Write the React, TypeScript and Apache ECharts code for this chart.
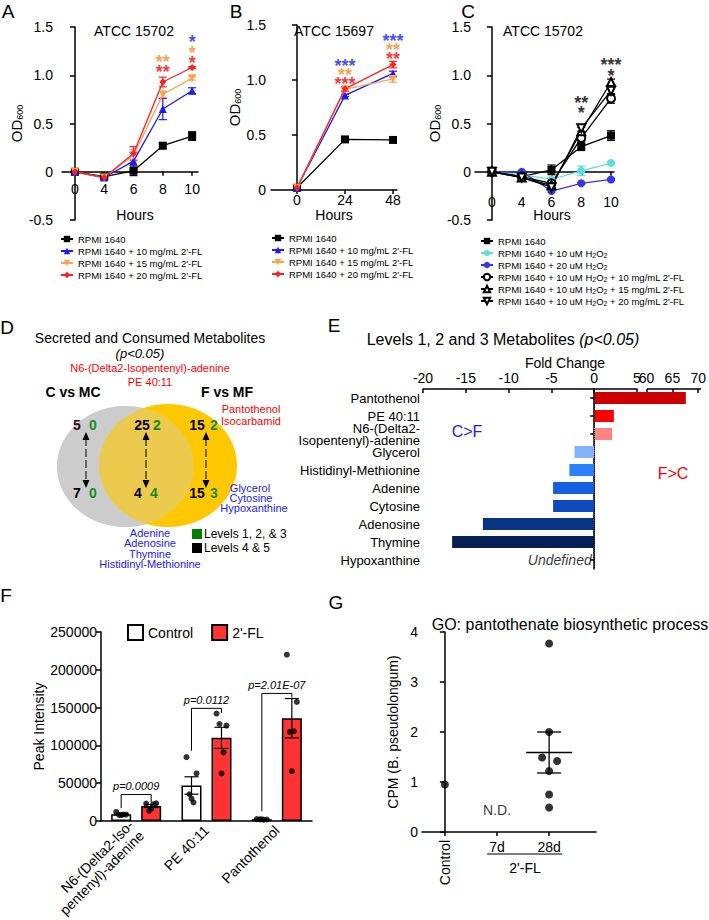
import React, { useEffect, useRef } from 'react';
import * as echarts from 'echarts';

const FONT = "'Liberation Sans', Arial, Helvetica, sans-serif";
const W = 709;
const H = 920;

// ---------- Panel A (ATCC 15702) ----------
const hoursAC = ['0', '4', '6', '8', '10'];
const aRpmi = [0, -0.05, 0.01, 0.27, 0.37];
const aRpmiErr = [0.01, 0.01, 0.05, 0.03, 0.045];
const aFl10 = [0, -0.06, 0.11, 0.65, 0.84];
const aFl10Err = [0.005, 0.01, 0.09, 0.11, 0.03];
const aFl15 = [0, -0.06, 0.17, 0.8, 0.97];
const aFl15Err = [0.005, 0.01, 0.06, 0.03, 0.02];
const aFl20 = [0, -0.06, 0.19, 0.93, 1.08];
const aFl20Err = [0.005, 0.01, 0.07, 0.05, 0.01];
// significance marks: [x, y, text, colour key]
const aStars = [[4, 1.38, '*', 'b'], [3, 1.18, '**', 'o'], [4, 1.27, '*', 'o'], [3, 1.07, '**', 'r'], [4, 1.17, '*', 'r']];

// ---------- Panel B (ATCC 15697) ----------
const hoursB = [0, 24, 48];
const bRpmi = [0.02, 0.46, 0.455];
const bRpmiErr = [0.01, 0.01, 0.01];
const bFl10 = [0.02, 0.86, 1.06];
const bFl10Err = [0.01, 0.01, 0.02];
const bFl15 = [0.02, 0.915, 1.01];
const bFl15Err = [0.01, 0.02, 0.03];
const bFl20 = [0.02, 0.92, 1.14];
const bFl20Err = [0.01, 0.02, 0.03];
const bStars = [
  [24, 1.16, '***', 'b'], [24, 1.08, '**', 'o'], [24, 1.0, '***', 'r'],
  [48, 1.39, '***', 'b'], [48, 1.31, '**', 'o'], [48, 1.23, '**', 'r'],
];

// ---------- Panel C (ATCC 15702 + H2O2) ----------
const cRpmi = [0.01, -0.05, 0.02, 0.26, 0.375];
const cRpmiErr = [0.02, 0.02, 0.05, 0.04, 0.05];
const cH10 = [0, -0.03, -0.08, 0.01, 0.09];
const cH10Err = [0.005, 0.01, 0.02, 0.05, 0.01];
const cH20 = [0, 0.0, -0.2, -0.12, -0.08];
const cH20Err = [0.005, 0.01, 0.01, 0.01, 0.01];
const cH10Fl10 = [0, -0.05, -0.12, 0.35, 0.76];
const cH10Fl10Err = [0.005, 0.01, 0.02, 0.03, 0.05];
const cH10Fl15 = [0, -0.06, -0.14, 0.42, 0.93];
const cH10Fl15Err = [0.005, 0.01, 0.02, 0.04, 0.03];
const cH10Fl20 = [0, -0.06, -0.16, 0.45, 0.84];
const cH10Fl20Err = [0.005, 0.01, 0.02, 0.03, 0.04];
const cStars = [[3, 0.75, '**', 'k'], [3, 0.65, '*', 'k'], [4, 1.15, '***', 'k'], [4, 1.03, '*', 'k']];

// ---------- Panel E (fold change) ----------
const eMetabolites = [
  'Pantothenol', 'PE 40:11', 'N6-(Delta2-\nIsopentenyl)-adenine', 'Glycerol',
  'Histidinyl-Methionine', 'Adenine', 'Cytosine', 'Adenosine', 'Thymine', 'Hypoxanthine',
];
const eFold = [67.6, 2.3, 2.1, -2.3, -2.9, -4.8, -4.8, -13.0, -16.6, null];
const eUndefinedIndex = 9;
const eColors = ['#cc0000', '#ff0000', '#ff8585', '#85b2ff', '#2a7fff', '#1660e0', '#0d4bbd', '#0a3585', '#061f55', '#000'];

// ---------- Panel F (peak intensity) ----------
const fCategories = ['N6-(Delta2-Iso-\npentenyl)-adenine', 'PE 40:11', 'Pantothenol'];
const fControlMean = [9000, 47000, 2200];
const fControlSem = [800, 11500, 150];
const fFlMean = [19800, 110000, 136000];
const fFlSem = [2000, 14000, 26000];
const fControlDots = [
  [12000, 8500, 8000, 8500, 8000],
  [84500, 62900, 35400, 24600, 29600],
  [2500, 2000, 2200, 1800, 2300],
];
const fFlDots = [
  [23000, 23500, 13500, 22000, 16000],
  [142100, 126200, 128300, 90800, 62900],
  [220000, 157500, 117900, 118750, 65900],
];
const fPValues = ['p=0.0009', 'p=0.0112', 'p=2.01E-07'];
const fBracketTop = [35000, 149000, 168750];
const fBracketLeft = [17000, 93000, 13000];
const fBracketRight = [25000, 143000, 163500];

// ---------- Panel G (CPM) ----------
const gGroups = ['Control', '7d', '28d'];
const gControl = [0.95];
const g28d = [3.77, 2.0, 1.49, 1.42, 1.22, 0.75, 0.49];
const g28dMean = 1.59;
const g28dSem = 0.41;

// ----- layout/style helpers (positions, not data) -----
const fJitter = [-5, 5, -2, 2, 0];
const gJitter = [0, 0, -7, 8, 0, 0, 0];

const N_RPMI = 'RPMI 1640';
const N_FL10 = "RPMI 1640 + 10 mg/mL 2'-FL";
const N_FL15 = "RPMI 1640 + 15 mg/mL 2'-FL";
const N_FL20 = "RPMI 1640 + 20 mg/mL 2'-FL";
const N_H10 = 'RPMI 1640 + 10 uM H2O2';
const N_H20 = 'RPMI 1640 + 20 uM H2O2';
const N_HF10 = "RPMI 1640 + 10 uM H2O2 + 10 mg/mL 2'-FL";
const N_HF15 = "RPMI 1640 + 10 uM H2O2 + 15 mg/mL 2'-FL";
const N_HF20 = "RPMI 1640 + 10 uM H2O2 + 20 mg/mL 2'-FL";

const BLACK = '#000000';
const BLUE = '#1a1aff';
const ORANGE = '#ffa24f';
const RED = '#ff2020';
const STAR_ORANGE = '#ff8a1f';
const CYAN = '#5fdede';
const CBLUE = '#3535ea';
const STAR_COLORS: any = { b: BLUE, o: STAR_ORANGE, r: '#ff0000', k: '#000' };

const axisLine = { show: true, onZero: true, lineStyle: { color: '#000', width: 1.5 } };
const lbl = (size: number, extra: any = {}) => ({ color: '#000', fontSize: size, fontFamily: FONT, ...extra });

function pairs(xs: number[], ys: number[]) {
  return xs.map((x, i) => [x, ys[i]]);
}
const idx5 = [0, 1, 2, 3, 4];

function lineSeries(name: string, gi: number, xs: number[], ys: number[], color: string, symbol: string, size: number, extra: any = {}) {
  return {
    type: 'line', name, xAxisIndex: gi, yAxisIndex: gi, data: pairs(xs, ys),
    symbol, symbolSize: size, lineStyle: { color, width: 1.3 }, itemStyle: { color }, z: 4, ...extra,
  };
}

function errorBars(gi: number, xs: number[], ys: number[], errs: number[], color: string, cap = 8) {
  return {
    type: 'custom', xAxisIndex: gi, yAxisIndex: gi, silent: true, z: 3,
    data: xs.map((x, i) => [x, ys[i] - errs[i], ys[i] + errs[i]]),
    encode: { x: 0, y: [1, 2] },
    renderItem: (params: any, api: any) => {
      const lo = api.coord([api.value(0), api.value(1)]);
      const hi = api.coord([api.value(0), api.value(2)]);
      const h = cap / 2;
      const st = { stroke: color, lineWidth: 1.2 };
      return {
        type: 'group', children: [
          { type: 'line', shape: { x1: lo[0], y1: lo[1], x2: hi[0], y2: hi[1] }, style: st },
          { type: 'line', shape: { x1: lo[0] - h, y1: lo[1], x2: lo[0] + h, y2: lo[1] }, style: st },
          { type: 'line', shape: { x1: hi[0] - h, y1: hi[1], x2: hi[0] + h, y2: hi[1] }, style: st },
        ],
      };
    },
  };
}

// Group the significance marks of one x position into one stacked label.
function starStacks(gi: number, pts: any[], lineHeight: number) {
  const groups: any = {};
  pts.forEach((p) => {
    (groups[p[0]] = groups[p[0]] || []).push(p);
  });
  const data = Object.keys(groups).map((k) => {
    const rows = groups[k].slice().sort((a: any, b: any) => b[1] - a[1]);
    const yMid = rows.reduce((s: number, r: any) => s + r[1], 0) / rows.length;
    const text = rows.map((r: any) => `{${r[3]}|${r[2]}}`).join('\n');
    return [Number(k), yMid, text];
  });
  const rich: any = {};
  Object.keys(STAR_COLORS).forEach((c) => {
    rich[c] = { color: STAR_COLORS[c], fontSize: 18, fontWeight: 'bold', fontFamily: FONT, lineHeight, align: 'center' };
  });
  return {
    type: 'scatter', xAxisIndex: gi, yAxisIndex: gi, silent: true, z: 6,
    data, symbolSize: 1, itemStyle: { color: 'transparent' },
    label: {
      show: true, position: 'inside', formatter: (p: any) => p.value[2], offset: [0, 4],
      fontSize: 18, lineHeight, align: 'center', rich,
    },
  };
}

function odAxis(gi: number, min: number, labelMargin: number, nameGap: number, size: number) {
  return {
    gridIndex: gi, type: 'value', min, max: 1.5, interval: 0.5,
    axisLine, axisTick: { show: true, length: 5, lineStyle: { color: '#000', width: 1.5 } },
    axisLabel: lbl(size, { margin: labelMargin, formatter: (v: number) => (v === 0 ? '0' : v.toFixed(1)) }),
    splitLine: { show: false },
    name: 'OD{s|600}', nameLocation: 'middle', nameGap,
    nameTextStyle: {
      color: '#000', fontSize: 15, fontFamily: FONT, lineHeight: 16,
      rich: { s: { fontSize: 9, fontFamily: FONT, lineHeight: 6, verticalAlign: 'bottom' } },
    },
  };
}

function buildOption() {
  const venn: any[] = [];
  const T = (x: number, y: number, text: string, o: any = {}) => ({
    type: 'text', x, y, silent: true,
    style: { text, fontFamily: FONT, fontSize: 14, fill: '#000', align: 'center', verticalAlign: 'middle', ...o },
  });
  // Venn diagram (panel D)
  venn.push({ type: 'ellipse', shape: { cx: 125.5, cy: 466.5, rx: 68.5, ry: 60.5 }, style: { fill: '#cccccc' }, silent: true });
  venn.push({ type: 'ellipse', shape: { cx: 168, cy: 465.5, rx: 69, ry: 61.5 }, style: { fill: '#ffc800' }, silent: true });
  venn.push({ type: 'ellipse', shape: { cx: 125.5, cy: 466.5, rx: 68.5, ry: 60.5 }, style: { fill: '#cccccc', opacity: 0.38 }, silent: true });
  const arrow = (x: number, y0: number, y1: number) => [
    { type: 'line', shape: { x1: x, y1: y0 + 6, x2: x, y2: y1 - 6 }, style: { stroke: '#000', lineWidth: 1, lineDash: [8, 3] }, silent: true },
    { type: 'polygon', shape: { points: [[x - 3.5, y0 + 8], [x, y0], [x + 3.5, y0 + 8]] }, style: { fill: '#000' }, silent: true },
    { type: 'polygon', shape: { points: [[x - 3.5, y1 - 8], [x, y1], [x + 3.5, y1 - 8]] }, style: { fill: '#000' }, silent: true },
  ];
  venn.push(...arrow(86, 432, 488), ...arrow(146, 432, 488), ...arrow(206, 432, 488));
  const GREEN = '#1a8c1a';
  const num = (x: number, y: number, t: string, c = '#000') => T(x, y, t, { fontWeight: 'bold', fontSize: 14, fill: c });
  venn.push(num(77, 425, '5', '#2a1010'), num(93, 425, '0', GREEN), num(142, 425, '25'), num(157, 425, '2', GREEN),
    num(197, 425, '15'), num(214, 425, '2', GREEN));
  venn.push(num(77, 493, '7'), num(93, 493, '0', GREEN), num(138, 493, '4'), num(154, 493, '4', GREEN),
    num(197, 493, '15'), num(214, 493, '3', GREEN));

  const graphics: any[] = [
    // panel letters
    T(8, 11, 'A', { fontSize: 19 }), T(236, 11, 'B', { fontSize: 19 }), T(468, 11, 'C', { fontSize: 19 }),
    T(7, 327, 'D', { fontSize: 19 }), T(334, 325, 'E', { fontSize: 19 }), T(6, 595, 'F', { fontSize: 19 }),
    T(336, 602, 'G', { fontSize: 19 }),
    // panel titles
    T(134, 31, 'ATCC 15702'), T(334, 31, 'ATCC 15697'), T(543, 31, 'ATCC 15702'),
    // axis titles for A and C (axis sits on zero, title under grid)
    T(135, 215, 'Hours'), T(552, 215, 'Hours'),
    // D texts
    T(150, 338, 'Secreted and Consumed Metabolites', { fontSize: 14 }),
    T(140, 353, '(p<0.05)', { fontSize: 13, fontStyle: 'italic' }),
    T(150, 368, 'N6-(Delta2-Isopentenyl)-adenine', { fontSize: 11, fill: '#ff0000' }),
    T(150, 382, 'PE 40:11', { fontSize: 11, fill: '#ff0000' }),
    T(73, 392, 'C vs MC', { fontSize: 14, fontWeight: 'bold' }),
    T(227, 392, 'F vs MF', { fontSize: 14, fontWeight: 'bold' }),
    T(251, 409, 'Pantothenol', { fontSize: 11, fill: '#ff0000' }),
    T(251, 421, 'Isocarbamid', { fontSize: 11, fill: '#ff0000' }),
    ...venn,
    T(250, 488, 'Glycerol', { fontSize: 11, fill: '#1a1aff' }),
    T(251, 498, 'Cytosine', { fontSize: 11, fill: '#1a1aff' }),
    T(254, 508, 'Hypoxanthine', { fontSize: 11, fill: '#1a1aff' }),
    T(150, 533, 'Adenine', { fontSize: 11, fill: '#1a1aff' }),
    T(150, 543, 'Adenosine', { fontSize: 11, fill: '#1a1aff' }),
    T(150, 554, 'Thymine', { fontSize: 11, fill: '#1a1aff' }),
    T(150, 564, 'Histidinyl-Methionine', { fontSize: 11, fill: '#1a1aff' }),
    { type: 'rect', shape: { x: 192, y: 529, width: 10, height: 10 }, style: { fill: '#008000' }, silent: true },
    { type: 'rect', shape: { x: 192, y: 543, width: 10, height: 10 }, style: { fill: '#000' }, silent: true },
    T(204, 534, 'Levels 1, 2, & 3', { fontSize: 12, align: 'left' }),
    T(204, 548, 'Levels 4 & 5', { fontSize: 12, align: 'left' }),
    // E texts
    {
      type: 'text', x: 503, y: 339, silent: true,
      style: {
        text: 'Levels 1, 2 and 3 Metabolites {i|(p<0.05)}', fontFamily: FONT, fontSize: 16, fill: '#000',
        align: 'center', verticalAlign: 'middle',
        rich: { i: { fontStyle: 'italic', fontSize: 16, fontFamily: FONT, fill: '#000' } },
      },
    },
    T(565, 363, 'Fold Change', { fontSize: 14 }),
    { type: 'line', shape: { x1: 647, y1: 389, x2: 701, y2: 389 }, style: { stroke: '#000', lineWidth: 1.5 }, silent: true },
    T(467, 431, 'C>F', { fontSize: 16, fill: '#1a1aff' }),
    T(673, 473, 'F>C', { fontSize: 16, fill: '#ff0000' }),
    // G texts
    T(570, 624, 'GO: pantothenate biosynthetic process', { fontSize: 16 }),
    { type: 'line', shape: { x1: 487, y1: 854, x2: 562, y2: 854 }, style: { stroke: '#000', lineWidth: 1.2 }, silent: true },
    T(525, 868, "2'-FL", { fontSize: 14 }),
  ];

  const legendBase = {
    orient: 'vertical', itemWidth: 12, itemHeight: 8, itemGap: 0, padding: 0, selectedMode: false,
    textStyle: { fontSize: 9.5, color: '#000', fontFamily: FONT, lineHeight: 12 },
  };

  const series: any[] = [
    // ---- A ----
    errorBars(0, idx5, aRpmi, aRpmiErr, BLACK),
    errorBars(0, idx5, aFl10, aFl10Err, BLUE),
    errorBars(0, idx5, aFl15, aFl15Err, ORANGE),
    errorBars(0, idx5, aFl20, aFl20Err, RED),
    lineSeries(N_RPMI, 0, idx5, aRpmi, BLACK, 'rect', 8),
    lineSeries(N_FL10, 0, idx5, aFl10, BLUE, 'triangle', 8),
    lineSeries(N_FL15, 0, idx5, aFl15, ORANGE, 'triangle', 8, { symbolRotate: 180 }),
    lineSeries(N_FL20, 0, idx5, aFl20, RED, 'diamond', 7),
    starStacks(0, aStars, 10.5),
    // ---- B ----
    errorBars(1, hoursB, bRpmi, bRpmiErr, BLACK),
    errorBars(1, hoursB, bFl10, bFl10Err, BLUE),
    errorBars(1, hoursB, bFl15, bFl15Err, ORANGE),
    errorBars(1, hoursB, bFl20, bFl20Err, RED),
    lineSeries(N_RPMI, 1, hoursB, bRpmi, BLACK, 'rect', 8),
    lineSeries(N_FL10, 1, hoursB, bFl10, BLUE, 'triangle', 8),
    lineSeries(N_FL15, 1, hoursB, bFl15, ORANGE, 'triangle', 8, { symbolRotate: 180 }),
    lineSeries(N_FL20, 1, hoursB, bFl20, RED, 'diamond', 7),
    starStacks(1, bStars, 8.8),
    // ---- C ----
    errorBars(2, idx5, cRpmi, cRpmiErr, BLACK),
    errorBars(2, idx5, cH10, cH10Err, CYAN),
    errorBars(2, idx5, cH20, cH20Err, CBLUE),
    errorBars(2, idx5, cH10Fl10, cH10Fl10Err, BLACK),
    errorBars(2, idx5, cH10Fl15, cH10Fl15Err, BLACK),
    errorBars(2, idx5, cH10Fl20, cH10Fl20Err, BLACK),
    lineSeries(N_RPMI, 2, idx5, cRpmi, BLACK, 'rect', 8),
    lineSeries(N_H10, 2, idx5, cH10, CYAN, 'circle', 8),
    lineSeries(N_H20, 2, idx5, cH20, CBLUE, 'circle', 8),
    lineSeries(N_HF10, 2, idx5, cH10Fl10, BLACK, 'emptyCircle', 8),
    lineSeries(N_HF15, 2, idx5, cH10Fl15, BLACK, 'emptyTriangle', 8),
    lineSeries(N_HF20, 2, idx5, cH10Fl20, BLACK, 'emptyTriangle', 8, { symbolRotate: 180 }),
    starStacks(2, cStars, 10.5),
    // ---- E ----
    {
      type: 'bar', xAxisIndex: 3, yAxisIndex: 3, barWidth: 12, silent: true,
      data: eFold.map((v, i) => (v == null ? '-' : { value: v, itemStyle: { color: eColors[i] } })),
      markLine: {
        silent: true, symbol: ['none', 'none'], label: { show: false },
        lineStyle: { type: 'dotted', color: '#000', width: 1 }, data: [{ xAxis: 0 }],
      },
    },
    {
      type: 'bar', xAxisIndex: 4, yAxisIndex: 4, barWidth: 12, silent: true,
      data: eFold.map((v, i) => (v != null && v > 5 ? { value: v, itemStyle: { color: eColors[i] } } : '-')),
    },
    {
      type: 'scatter', xAxisIndex: 3, yAxisIndex: 3, silent: true, symbolSize: 1,
      itemStyle: { color: 'transparent' }, data: [[0, eUndefinedIndex]],
      label: { show: true, position: 'left', distance: 2, formatter: 'Undefined', color: '#000', fontSize: 14, fontStyle: 'italic', fontFamily: FONT },
    },
    // ---- F ----
    {
      type: 'bar', name: 'Control', xAxisIndex: 5, yAxisIndex: 5, barWidth: 20, barGap: '50%', silent: true,
      data: fControlMean, itemStyle: { color: '#ffffff', borderColor: '#000', borderWidth: 1.5 },
    },
    {
      type: 'bar', name: "2'-FL", xAxisIndex: 5, yAxisIndex: 5, barWidth: 20, barGap: '50%', silent: true,
      data: fFlMean, itemStyle: { color: '#ff3333', borderColor: '#000', borderWidth: 1.5 },
    },
    ...[[fControlMean, fControlSem, -15], [fFlMean, fFlSem, 15]].map(([m, s, off]: any) => ({
      type: 'custom', xAxisIndex: 5, yAxisIndex: 5, silent: true, z: 4,
      data: m.map((v: number, i: number) => [i, v - s[i], v + s[i]]),
      encode: { x: 0, y: [1, 2] },
      renderItem: (params: any, api: any) => {
        const lo = api.coord([api.value(0), api.value(1)]);
        const hi = api.coord([api.value(0), api.value(2)]);
        const x = lo[0] + off;
        const st = { stroke: '#000', lineWidth: 1.2 };
        return {
          type: 'group', children: [
            { type: 'line', shape: { x1: x, y1: lo[1], x2: x, y2: hi[1] }, style: st },
            { type: 'line', shape: { x1: x - 7, y1: lo[1], x2: x + 7, y2: lo[1] }, style: st },
            { type: 'line', shape: { x1: x - 7, y1: hi[1], x2: x + 7, y2: hi[1] }, style: st },
          ],
        };
      },
    })),
    ...[[fControlDots, -15], [fFlDots, 15]].map(([dots, off]: any) => ({
      type: 'scatter', xAxisIndex: 5, yAxisIndex: 5, silent: true, z: 5, symbolSize: 6,
      itemStyle: { color: '#000' },
      data: dots.flatMap((arr: number[], ci: number) =>
        arr.map((v, k) => ({ value: [ci, v], symbolOffset: [off + fJitter[k], 0] }))),
    })),
    {
      type: 'custom', xAxisIndex: 5, yAxisIndex: 5, silent: true, z: 6,
      data: fBracketTop.map((t, i) => [i, t, fBracketLeft[i], fBracketRight[i]]),
      encode: { x: 0, y: [1, 2, 3] },
      renderItem: (params: any, api: any) => {
        const c = api.value(0);
        const top = api.coord([c, api.value(1)]);
        const l = api.coord([c, api.value(2)]);
        const r = api.coord([c, api.value(3)]);
        const xl = top[0] - 15;
        const xr = top[0] + 15;
        return {
          type: 'group', children: [
            { type: 'polyline', shape: { points: [[xl, l[1]], [xl, top[1]], [xr, top[1]], [xr, r[1]]] }, style: { stroke: '#000', lineWidth: 1, fill: 'none' } },
            {
              type: 'text', x: top[0], y: top[1] - 3,
              style: { text: fPValues[params.dataIndex], fontSize: 11, fontStyle: 'italic', fontFamily: FONT, fill: '#000', align: 'center', verticalAlign: 'bottom' },
            },
          ],
        };
      },
    },
    // ---- G ----
    {
      type: 'scatter', xAxisIndex: 6, yAxisIndex: 6, silent: true, symbolSize: 8, itemStyle: { color: '#000' },
      data: gControl.map((v) => [0, v]),
    },
    {
      type: 'scatter', xAxisIndex: 6, yAxisIndex: 6, silent: true, symbolSize: 8, itemStyle: { color: '#000' },
      data: g28d.map((v, k) => ({ value: [2, v], symbolOffset: [gJitter[k], 0] })),
    },
    {
      type: 'custom', xAxisIndex: 6, yAxisIndex: 6, silent: true, z: 4,
      data: [[2, g28dMean, g28dMean - g28dSem, g28dMean + g28dSem]],
      encode: { x: 0, y: [1, 2, 3] },
      renderItem: (params: any, api: any) => {
        const m = api.coord([api.value(0), api.value(1)]);
        const lo = api.coord([api.value(0), api.value(2)]);
        const hi = api.coord([api.value(0), api.value(3)]);
        const st = { stroke: '#000', lineWidth: 1.3 };
        return {
          type: 'group', children: [
            { type: 'line', shape: { x1: m[0] - 23, y1: m[1], x2: m[0] + 23, y2: m[1] }, style: st },
            { type: 'line', shape: { x1: m[0], y1: lo[1], x2: m[0], y2: hi[1] }, style: st },
            { type: 'line', shape: { x1: m[0] - 12, y1: lo[1], x2: m[0] + 12, y2: lo[1] }, style: st },
            { type: 'line', shape: { x1: m[0] - 12, y1: hi[1], x2: m[0] + 12, y2: hi[1] }, style: st },
          ],
        };
      },
    },
    {
      type: 'scatter', xAxisIndex: 6, yAxisIndex: 6, silent: true, symbolSize: 1, itemStyle: { color: 'transparent' },
      data: [[1, 0.44]],
      label: { show: true, position: 'inside', formatter: 'N.D.', color: '#000', fontSize: 14, fontFamily: FONT },
    },
  ];

  return {
    animation: false,
    backgroundColor: '#ffffff',
    textStyle: { fontFamily: FONT },
    graphic: graphics,
    legend: [
      { ...legendBase, left: 60, top: 233, data: [N_RPMI, N_FL10, N_FL15, N_FL20] },
      { ...legendBase, left: 271, top: 232, data: [N_RPMI, N_FL10, N_FL15, N_FL20] },
      {
        ...legendBase, left: 480, top: 235, data: [N_RPMI, N_H10, N_H20, N_HF10, N_HF15, N_HF20],
        formatter: (name: string) => name.replace(/H2O2/g, 'H{s|2}O{s|2}'),
        textStyle: {
          fontSize: 9.5, color: '#000', fontFamily: FONT, lineHeight: 12,
          rich: { s: { fontSize: 7, fontFamily: FONT, lineHeight: 6, verticalAlign: 'bottom', color: '#000' } },
        },
      },
      {
        orient: 'horizontal', left: 127, top: 624, itemWidth: 15, itemHeight: 15, itemGap: 18, padding: 0,
        selectedMode: false, icon: 'rect', data: ['Control', "2'-FL"],
        textStyle: { fontSize: 14, color: '#000', fontFamily: FONT },
      },
    ],
    grid: [
      { left: 62, top: 27, width: 136, height: 193 },
      { left: 271, top: 25, width: 126, height: 165 },
      { left: 475, top: 27, width: 139, height: 193 },
      { left: 423, top: 389, width: 214, height: 180 },
      { left: 637, top: 389, width: 64, height: 180 },
      { left: 101, top: 632, width: 211, height: 199 },
      { left: 422, top: 632, width: 174, height: 200 },
    ],
    xAxis: [
      {
        gridIndex: 0, type: 'value', min: -0.44, max: 4.2, axisLine,
        axisTick: { show: true, length: 4, customValues: idx5, lineStyle: { color: '#000', width: 1.5 } },
        axisLabel: lbl(14, { margin: -38, customValues: idx5, formatter: (v: number) => hoursAC[Math.round(v)] }),
        splitLine: { show: false },
      },
      {
        gridIndex: 1, type: 'value', min: -13, max: 50, axisLine,
        axisTick: { show: true, length: 4, customValues: hoursB, lineStyle: { color: '#000', width: 1.5 } },
        axisLabel: lbl(14, { margin: 3, customValues: hoursB }),
        splitLine: { show: false }, name: 'Hours', nameLocation: 'middle', nameGap: 18, nameTextStyle: lbl(14),
      },
      {
        gridIndex: 2, type: 'value', min: -0.57, max: 4.1, axisLine,
        axisTick: { show: true, length: 4, customValues: idx5, lineStyle: { color: '#000', width: 1.5 } },
        axisLabel: lbl(14, { margin: -25, customValues: idx5, formatter: (v: number) => hoursAC[Math.round(v)] }),
        splitLine: { show: false },
      },
      {
        gridIndex: 3, type: 'value', position: 'top', min: -20, max: 5, interval: 5,
        axisLine: { show: true, onZero: false, lineStyle: { color: '#000', width: 1.5 } },
        axisTick: { show: true, inside: true, length: 4, lineStyle: { color: '#000', width: 1.5 } },
        axisLabel: lbl(14, { margin: 4 }), splitLine: { show: false },
      },
      {
        gridIndex: 4, type: 'value', position: 'top', min: 58.148, max: 70,
        axisLine: { show: false },
        axisTick: { show: true, inside: true, length: 4, customValues: [60, 65, 70], lineStyle: { color: '#000', width: 1.5 } },
        axisLabel: lbl(14, { margin: 4, customValues: [60, 65, 70] }), splitLine: { show: false },
      },
      {
        gridIndex: 5, type: 'category', data: fCategories, axisLine: { show: true, lineStyle: { color: '#000', width: 1.5 } },
        axisTick: { show: false },
        axisLabel: lbl(14, { rotate: 45, interval: 0, margin: 7, lineHeight: 15 }),
      },
      {
        gridIndex: 6, type: 'value', position: 'bottom', min: -0.44, max: 2.9,
        axisLine: { show: true, onZero: false, lineStyle: { color: '#000', width: 1.5 } },
        axisTick: { show: true, length: 4, customValues: [0], lineStyle: { color: '#000', width: 1.5 } },
        axisLabel: lbl(14, { customValues: [0], rotate: 90, margin: 8, formatter: () => gGroups[0] }),
        splitLine: { show: false },
      },
      {
        gridIndex: 6, type: 'value', position: 'bottom', min: -0.44, max: 2.9,
        axisLine: { show: false, onZero: false },
        axisTick: { show: true, length: 4, customValues: [1, 2], lineStyle: { color: '#000', width: 1.5 } },
        axisLabel: lbl(14, { customValues: [1, 2], margin: 8, formatter: (v: number) => gGroups[Math.round(v)] }),
        splitLine: { show: false },
      },
    ],
    yAxis: [
      odAxis(0, -0.5, 9, 27, 14),
      odAxis(1, 0, 5, 28, 14),
      odAxis(2, -0.5, 4, 26, 14),
      {
        gridIndex: 3, type: 'category', data: eMetabolites, inverse: true,
        axisLine: { show: true, lineStyle: { color: '#000', width: 1.5 } },
        axisTick: { show: true, alignWithLabel: true, length: 4, lineStyle: { color: '#000', width: 1.5 } },
        axisLabel: lbl(13, { margin: 3, lineHeight: 12, interval: 0 }),
      },
      { gridIndex: 4, type: 'category', data: eMetabolites, inverse: true, show: false },
      {
        gridIndex: 5, type: 'value', min: 0, max: 250000, interval: 50000,
        axisLine: { show: true, lineStyle: { color: '#000', width: 1.5 } },
        axisTick: { show: true, length: 5, lineStyle: { color: '#000', width: 1.5 } },
        axisLabel: lbl(14, { margin: 4, formatter: (v: number) => String(v) }), splitLine: { show: false },
        name: 'Peak Intensity', nameLocation: 'middle', nameGap: 53, nameTextStyle: lbl(14),
      },
      {
        gridIndex: 6, type: 'value', min: 0, max: 4, interval: 1,
        axisLine: { show: true, lineStyle: { color: '#000', width: 1.5 } },
        axisTick: { show: true, length: 5, lineStyle: { color: '#000', width: 1.5 } },
        axisLabel: lbl(14, { margin: 4 }), splitLine: { show: false },
        name: 'CPM (B. pseudolongum)', nameLocation: 'middle', nameGap: 22, nameTextStyle: lbl(14),
      },
    ],
    series,
  };
}

export default function App() {
  const ref = useRef<HTMLDivElement>(null);
  useEffect(() => {
    const chart = echarts.init(ref.current as HTMLDivElement, null, { renderer: 'svg', width: W, height: H });
    chart.setOption(buildOption() as any);
    return () => chart.dispose();
  }, []);
  return (
    <div
      ref={ref}
      style={{ position: 'fixed', left: 0, top: 0, width: W, height: H, background: '#fff' }}
    />
  );
}
